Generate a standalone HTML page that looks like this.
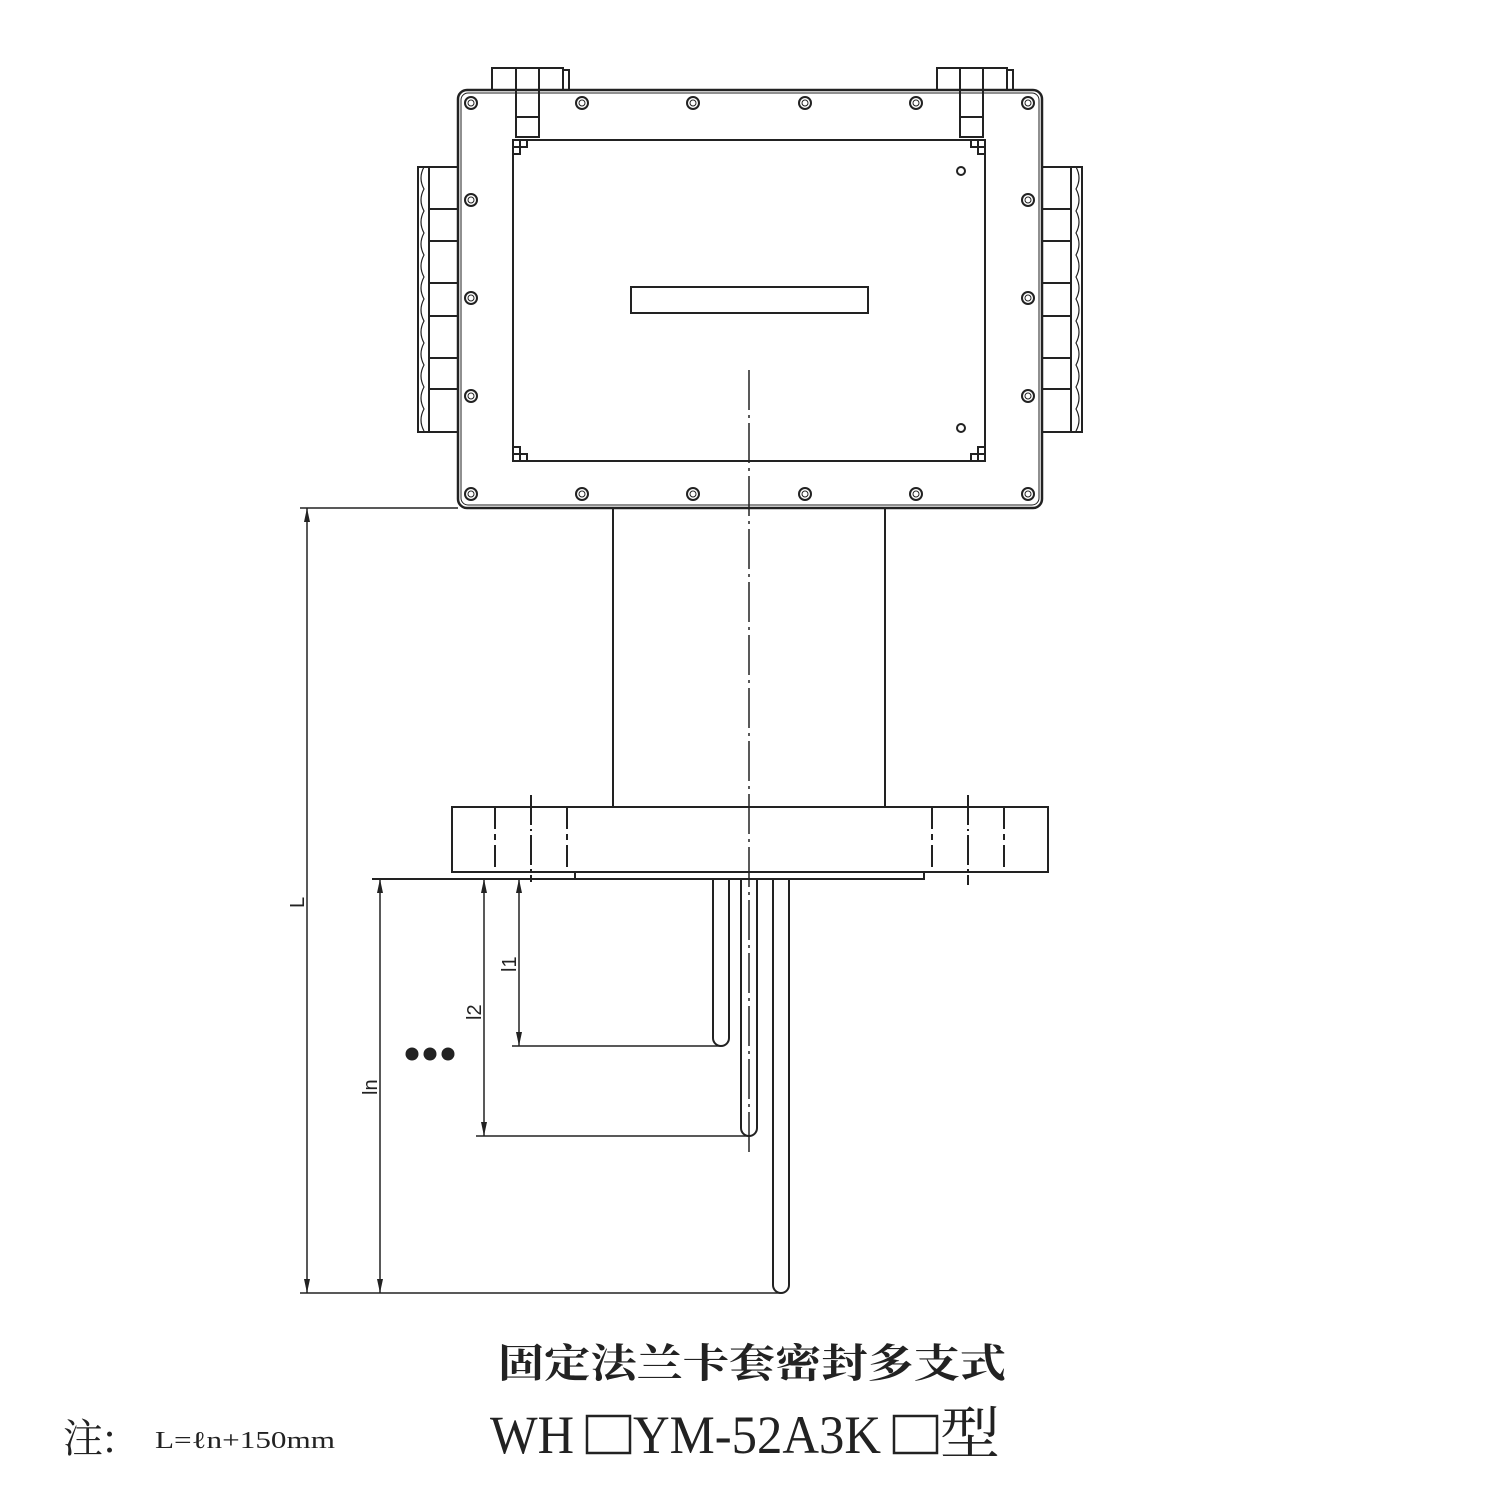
<!DOCTYPE html>
<html><head><meta charset="utf-8"><style>
html,body{margin:0;padding:0;background:#fff;}
svg{display:block;}
</style></head><body>
<svg width="1500" height="1500" viewBox="0 0 1500 1500" xmlns="http://www.w3.org/2000/svg">
<g fill="none" stroke="#222" stroke-width="2">
<!-- hinges -->
<rect x="492" y="68" width="71" height="22"/>
<rect x="516" y="68" width="23" height="69"/>
<line x1="516" y1="117" x2="539" y2="117"/>
<rect x="563" y="70" width="6" height="20"/>
<rect x="937" y="68" width="70" height="22"/>
<rect x="960" y="68" width="23" height="69"/>
<line x1="960" y1="117" x2="983" y2="117"/>
<rect x="1007" y="70" width="6" height="20"/>
<!-- box -->
<rect x="458" y="90" width="584" height="418" rx="9" stroke-width="2.5"/>
<rect x="461" y="93" width="578" height="412" rx="7" stroke-width="1"/>
<rect x="513" y="140" width="472" height="321"/>
<rect x="513" y="147" width="7" height="7"/><rect x="520" y="140" width="7" height="7"/>
<rect x="978" y="147" width="7" height="7"/><rect x="971" y="140" width="7" height="7"/>
<rect x="513" y="447" width="7" height="7"/><rect x="520" y="454" width="7" height="7"/>
<rect x="978" y="447" width="7" height="7"/><rect x="971" y="454" width="7" height="7"/>
<rect x="631" y="287" width="237" height="26"/>
<circle cx="961" cy="171" r="4"/><circle cx="961" cy="428" r="4"/>
<!-- screws -->
<g stroke-width="2">
<circle cx="471" cy="103" r="6"/><circle cx="582" cy="103" r="6"/><circle cx="693" cy="103" r="6"/><circle cx="805" cy="103" r="6"/><circle cx="916" cy="103" r="6"/><circle cx="1028" cy="103" r="6"/>
<circle cx="471" cy="494" r="6"/><circle cx="582" cy="494" r="6"/><circle cx="693" cy="494" r="6"/><circle cx="805" cy="494" r="6"/><circle cx="916" cy="494" r="6"/><circle cx="1028" cy="494" r="6"/>
<circle cx="471" cy="200" r="6"/><circle cx="471" cy="298" r="6"/><circle cx="471" cy="396" r="6"/>
<circle cx="1028" cy="200" r="6"/><circle cx="1028" cy="298" r="6"/><circle cx="1028" cy="396" r="6"/>
</g>
<g stroke-width="1"><circle cx="471" cy="103" r="3"/><circle cx="582" cy="103" r="3"/><circle cx="693" cy="103" r="3"/><circle cx="805" cy="103" r="3"/><circle cx="916" cy="103" r="3"/><circle cx="1028" cy="103" r="3"/>
<circle cx="471" cy="494" r="3"/><circle cx="582" cy="494" r="3"/><circle cx="693" cy="494" r="3"/><circle cx="805" cy="494" r="3"/><circle cx="916" cy="494" r="3"/><circle cx="1028" cy="494" r="3"/>
<circle cx="471" cy="200" r="3"/><circle cx="471" cy="298" r="3"/><circle cx="471" cy="396" r="3"/><circle cx="1028" cy="200" r="3"/><circle cx="1028" cy="298" r="3"/><circle cx="1028" cy="396" r="3"/></g>
<!-- terminal blocks -->
<rect x="1042" y="167" width="29" height="265"/>
<rect x="1071" y="167" width="11" height="265"/>
<path d="M1042 209H1071M1042 241H1071M1042 283H1071M1042 316H1071M1042 358H1071M1042 389H1071"/>
<rect x="429" y="167" width="29" height="265"/>
<rect x="418" y="167" width="11" height="265"/>
<path d="M429 209H458M429 241H458M429 283H458M429 316H458M429 358H458M429 389H458"/>
<g stroke-width="1.2">
<path d="M1076 167q6 11 0 22q6 11 0 22q6 11 0 22q6 11 0 22q6 11 0 22q6 11 0 22q6 11 0 22q6 11 0 22q6 11 0 22q6 11 0 22q6 11 0 22q6 11 0 22"/>
<path d="M424 167q-6 11 0 22q-6 11 0 22q-6 11 0 22q-6 11 0 22q-6 11 0 22q-6 11 0 22q-6 11 0 22q-6 11 0 22q-6 11 0 22q-6 11 0 22q-6 11 0 22q-6 11 0 22"/>
</g>
<!-- neck -->
<line x1="613" y1="508" x2="613" y2="807"/><line x1="885" y1="508" x2="885" y2="807"/>
<!-- flange -->
<rect x="452" y="807" width="596" height="65"/>
<path d="M575 872V879H924V872"/>
<g stroke-dasharray="22 5 6 5"><line x1="495" y1="807" x2="495" y2="872"/><line x1="567" y1="807" x2="567" y2="872"/><line x1="932" y1="807" x2="932" y2="872"/><line x1="1004" y1="807" x2="1004" y2="872"/></g>
<g stroke-dasharray="30 4 2 4"><line x1="531" y1="795" x2="531" y2="882"/><line x1="968" y1="795" x2="968" y2="885"/></g>
<!-- centre line -->
<line x1="749" y1="370" x2="749" y2="1155" stroke-dasharray="40 5 3 5" stroke-width="1.5"/>
<!-- tubes -->
<path d="M713 879V1038a8 8 0 0 0 16 0V879"/>
<path d="M741 879V1128a8 8 0 0 0 16 0V879"/>
<path d="M773 879V1285a8 8 0 0 0 16 0V879"/>
<!-- dimension lines -->
<line x1="300" y1="508" x2="458" y2="508" stroke-width="1.5"/>
<line x1="372" y1="879" x2="575" y2="879" stroke-width="2"/>
<line x1="300" y1="1293" x2="781" y2="1293" stroke-width="1.5"/>
<line x1="476" y1="1136" x2="749" y2="1136" stroke-width="1.5"/>
<line x1="512" y1="1046" x2="721" y2="1046" stroke-width="1.5"/>
<g stroke-width="1.5">
<line x1="307" y1="508" x2="307" y2="1293"/>
<line x1="380" y1="879" x2="380" y2="1293"/>
<line x1="484" y1="879" x2="484" y2="1136"/>
<line x1="519" y1="879" x2="519" y2="1046"/>
</g>
<!-- type boxes -->
<rect x="587" y="1416" width="43" height="37" stroke-width="2.5"/>
<rect x="894" y="1416" width="43" height="37" stroke-width="2.5"/>
</g>
<g fill="#222">
<path d="M307 508l-3 14h6z"/><path d="M307 1293l-3 -14h6z"/>
<path d="M380 879l-3 14h6z"/><path d="M380 1293l-3 -14h6z"/>
<path d="M484 879l-3 14h6z"/><path d="M484 1136l-3 -14h6z"/>
<path d="M519 879l-3 14h6z"/><path d="M519 1046l-3 -14h6z"/>
<circle cx="412" cy="1054" r="6.5"/><circle cx="430" cy="1054" r="6.5"/><circle cx="448" cy="1054" r="6.5"/>
</g>
<g font-family="Liberation Sans, sans-serif" font-size="20" fill="#222">
<text transform="translate(304,908) rotate(-90)">L</text>
<text transform="translate(516,972) rotate(-90)">l1</text>
<text transform="translate(481,1020) rotate(-90)">l2</text>
<text transform="translate(377,1095) rotate(-90)">ln</text>
</g>
<text x="498" y="1377" font-family="'Noto Serif CJK SC', serif" font-size="40" font-weight="bold" textLength="508" lengthAdjust="spacingAndGlyphs" fill="#222">固定法兰卡套密封多支式</text>
<g font-family="'Liberation Serif', 'Noto Serif CJK SC', serif" font-size="54" fill="#222">
<text x="490" y="1453" textLength="84" lengthAdjust="spacingAndGlyphs">WH</text>
<text x="633" y="1453" textLength="248" lengthAdjust="spacingAndGlyphs">YM-52A3K</text>
<text x="940" y="1453" font-family="'Noto Serif CJK SC', serif" font-size="56" textLength="60" lengthAdjust="spacingAndGlyphs">型</text>
</g>
<text x="63" y="1452" font-family="'Noto Serif CJK SC', serif" font-size="40" fill="#222">注:</text>
<text x="155" y="1448" font-family="'Liberation Serif', serif" font-size="24" textLength="180" lengthAdjust="spacingAndGlyphs" fill="#222">L=ℓn+150mm</text>
</svg>
</body></html>
